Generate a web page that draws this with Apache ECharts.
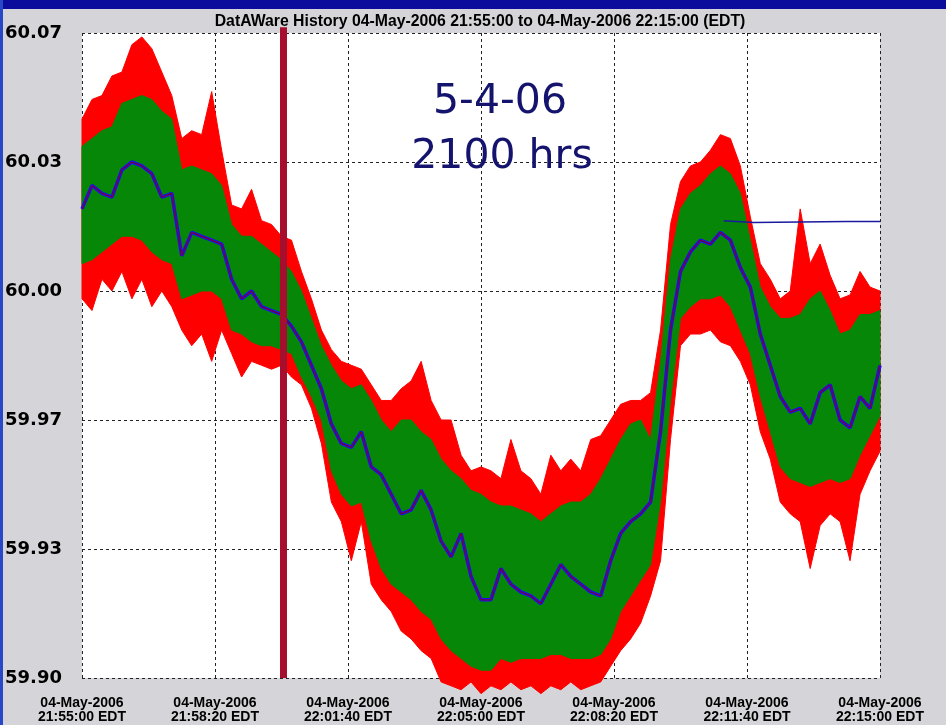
<!DOCTYPE html>
<html><head><meta charset="utf-8">
<script src="https://cdn.jsdelivr.net/npm/echarts@6/dist/echarts.min.js"></script>
<style>html,body{margin:0;padding:0;background:#d5d5d9;}#c{width:946px;height:725px;}</style>
</head><body><div id="c"></div><script>
// seconds after 21:55:00 EDT
const times = [0,15,30,45,60,75,90,105,120,135,150,165,180,195,210,225,240,255,270,285,
300,315,330,345,360,375,390,405,420,435,450,465,480,495,510,525,540,555,570,585,
600,615,630,645,660,675,690,705,720,735,750,765,780,795,810,825,840,855,870,885,
900,915,930,945,960,975,990,1005,1020,1035,1050,1065,1080,1095,1110,1125,1140,1155,1170,1185,1200];

const centerLine = [60.020,60.026,60.024,60.023,60.030,60.032,60.031,60.029,60.023,60.024,
60.008,60.014,60.013,60.012,60.011,60.002,59.997,59.999,59.995,59.994,
59.993,59.990,59.986,59.980,59.974,59.965,59.960,59.959,59.963,59.954,
59.952,59.947,59.942,59.943,59.948,59.943,59.935,59.931,59.937,59.926,
59.920,59.920,59.928,59.924,59.922,59.921,59.919,59.924,59.929,59.926,
59.924,59.922,59.921,59.930,59.937,59.940,59.942,59.945,59.963,59.989,
60.004,60.009,60.012,60.011,60.014,60.012,60.005,60.000,59.988,59.980,
59.972,59.968,59.969,59.965,59.973,59.975,59.966,59.964,59.972,59.969,
59.980];

const greenHigh = [60.036,60.038,60.040,60.041,60.047,60.048,60.049,60.048,60.045,60.043,
60.030,60.031,60.030,60.029,60.026,60.016,60.013,60.013,60.011,60.009,
60.007,60.004,59.999,59.992,59.985,59.980,59.976,59.974,59.975,59.971,
59.966,59.963,59.966,59.966,59.963,59.961,59.956,59.953,59.951,59.948,
59.947,59.945,59.944,59.944,59.943,59.942,59.940,59.942,59.944,59.945,
59.945,59.947,59.951,59.956,59.961,59.965,59.966,59.961,59.981,60.007,
60.020,60.024,60.026,60.029,60.031,60.029,60.024,60.012,60.000,59.995,
59.992,59.992,59.993,59.997,59.999,59.994,59.988,59.989,59.993,59.993,
59.994];

const greenLow = [60.006,60.007,60.009,60.011,60.013,60.013,60.012,60.009,60.007,60.006,
59.997,59.998,59.999,59.999,59.997,59.989,59.988,59.986,59.985,59.985,
59.984,59.983,59.977,59.972,59.966,59.953,59.947,59.944,59.945,59.935,
59.928,59.924,59.922,59.920,59.917,59.915,59.910,59.907,59.905,59.903,
59.902,59.902,59.905,59.904,59.905,59.905,59.905,59.906,59.906,59.905,
59.905,59.905,59.906,59.910,59.917,59.921,59.925,59.929,59.945,59.971,
59.992,59.995,59.997,59.997,59.998,59.995,59.989,59.983,59.972,59.963,
59.954,59.951,59.950,59.949,59.950,59.951,59.950,59.951,59.957,59.962,
59.967];

const redHigh = [60.043,60.048,60.049,60.054,60.055,60.062,60.064,60.061,60.055,60.049,
60.038,60.040,60.039,60.050,60.035,60.021,60.020,60.025,60.017,60.016,
60.013,60.012,60.004,59.997,59.989,59.984,59.981,59.980,59.979,59.975,
59.971,59.971,59.974,59.976,59.981,59.971,59.966,59.966,59.957,59.953,
59.954,59.953,59.951,59.961,59.953,59.951,59.947,59.957,59.953,59.956,
59.953,59.961,59.962,59.966,59.970,59.971,59.971,59.973,59.989,60.016,
60.027,60.031,60.032,60.035,60.039,60.038,60.031,60.018,60.006,60.002,
59.997,59.999,60.020,60.006,60.011,60.003,59.997,59.998,60.004,60.000,
59.999];

const redLow = [59.997,59.994,60.002,59.999,60.004,59.997,60.002,59.995,59.999,59.995,
59.989,59.985,59.988,59.981,59.989,59.983,59.977,59.981,59.980,59.979,
59.980,59.977,59.975,59.969,59.960,59.945,59.940,59.930,59.940,59.924,
59.920,59.917,59.912,59.910,59.907,59.905,59.899,59.898,59.897,59.899,
59.896,59.898,59.897,59.899,59.897,59.898,59.896,59.898,59.897,59.899,
59.897,59.898,59.899,59.903,59.907,59.910,59.914,59.921,59.930,59.961,
59.985,59.988,59.988,59.989,59.986,59.985,59.981,59.975,59.963,59.956,
59.945,59.942,59.940,59.928,59.939,59.942,59.940,59.930,59.947,59.953,
59.958];

const holdTimes = [965, 1010, 1150, 1200];
const holdValues = [60.0170, 60.0165, 60.0168, 60.0168];

const markerTimes = [303, 303];
const markerValues = [60.0665, 59.900];

const xTickLabels = ['04-May-2006\n21:55:00 EDT','04-May-2006\n21:58:20 EDT','04-May-2006\n22:01:40 EDT',
  '04-May-2006\n22:05:00 EDT','04-May-2006\n22:08:20 EDT','04-May-2006\n22:11:40 EDT','04-May-2006\n22:15:00 EDT'];
const yTickLabels = ['59.90','59.93','59.97','60.00','60.03','60.07'];
const yMin = 59.90, yMax = 60.065;

const pairs = (xs, vs) => xs.map((t, i) => [t, vs[i]]);

function bandSeries(hi, lo, color) {
  return {
    type: 'custom', coordinateSystem: 'cartesian2d', xAxisIndex: 0, yAxisIndex: 1, clip: false, silent: true,
    data: times.map((t, i) => [t, hi[i], lo[i]]),
    encode: {x: 0, y: [1, 2]},
    renderItem: (params, api) => {
      if (params.dataIndex !== 0) return null;
      const pts = [];
      for (let i = 0; i < times.length; i++) pts.push(api.coord([times[i], hi[i]]));
      for (let i = times.length - 1; i >= 0; i--) pts.push(api.coord([times[i], lo[i]]));
      return {type: 'polygon', shape: {points: pts}, style: {fill: color, stroke: color, lineWidth: 1}};
    }
  };
}

const chart = echarts.init(document.getElementById('c'), null, {renderer: 'canvas'});
const dash = {show: true, lineStyle: {color: '#222', width: 1, type: [3, 3]}};

chart.setOption({
  animation: false,
  backgroundColor: '#d5d5d9',
  grid: {left: 82, right: 66, top: 33, bottom: 47, show: true, backgroundColor: '#ffffff', borderWidth: 0},
  xAxis: [{type: 'value', min: 0, max: 1200, interval: 200,
    axisLine: {show: false}, axisTick: {show: false}, splitLine: dash,
    axisLabel: {formatter: (v) => xTickLabels[Math.round(v / 200)], color: '#000', fontWeight: 'bold',
      fontFamily: 'Liberation Sans, Arial, sans-serif', fontSize: 14, lineHeight: 14, margin: 18, align: 'center'}}],
  yAxis: [
    {type: 'value', min: 0, max: 5, interval: 1, axisLine: {show: false}, axisTick: {show: false}, splitLine: dash,
     axisLabel: {formatter: (v) => yTickLabels[v], color: '#000', fontWeight: 'bold',
       fontFamily: 'DejaVu Sans, Verdana, sans-serif', fontSize: 18, align: 'left', margin: 77}},
    {type: 'value', min: yMin, max: yMax, show: false, splitLine: {show: false}}
  ],
  series: [
    bandSeries(redHigh, redLow, '#ff0000'),
    bandSeries(greenHigh, greenLow, '#078707'),
    {type: 'line', yAxisIndex: 1, data: pairs(times, centerLine), showSymbol: false, symbol: 'none',
     lineStyle: {color: '#1010ff', width: 3.5}},
    {type: 'line', yAxisIndex: 1, data: pairs(times, centerLine), showSymbol: false, symbol: 'none',
     lineStyle: {color: '#7a0030', width: 1.3}},
    {type: 'line', yAxisIndex: 1, data: pairs(holdTimes, holdValues), showSymbol: false, symbol: 'none',
     lineStyle: {color: '#1a1aa0', width: 1.5}},
    {type: 'line', yAxisIndex: 1, data: pairs(markerTimes, markerValues), showSymbol: false, symbol: 'none',
     clip: false, z: 10, lineStyle: {color: '#a50f2d', width: 7, cap: 'butt'}}
  ],
  graphic: [
    {type: 'rect', shape: {x: 0, y: 0, width: 946, height: 9}, style: {fill: '#0b0b9c'}, z: 50},
    {type: 'rect', shape: {x: 0, y: 0, width: 3, height: 725}, style: {fill: '#2848c8'}, z: 50},
    {type: 'text', x: 480, y: 22, z: 50, style: {text: 'DatAWare History 04-May-2006 21:55:00 to 04-May-2006 22:15:00 (EDT)',
      textAlign: 'center', textVerticalAlign: 'middle', fill: '#000', font: 'bold 15.8px "Liberation Sans", Arial, sans-serif'}},
    {type: 'text', x: 500, y: 102, z: 50, style: {text: '5-4-06', textAlign: 'center', textVerticalAlign: 'middle',
      fill: '#14146e', font: '41px "DejaVu Sans", Verdana, sans-serif'}},
    {type: 'text', x: 502, y: 157, z: 50, style: {text: '2100 hrs', textAlign: 'center', textVerticalAlign: 'middle',
      fill: '#14146e', font: '41px "DejaVu Sans", Verdana, sans-serif'}}
  ]
});
</script></body></html>
